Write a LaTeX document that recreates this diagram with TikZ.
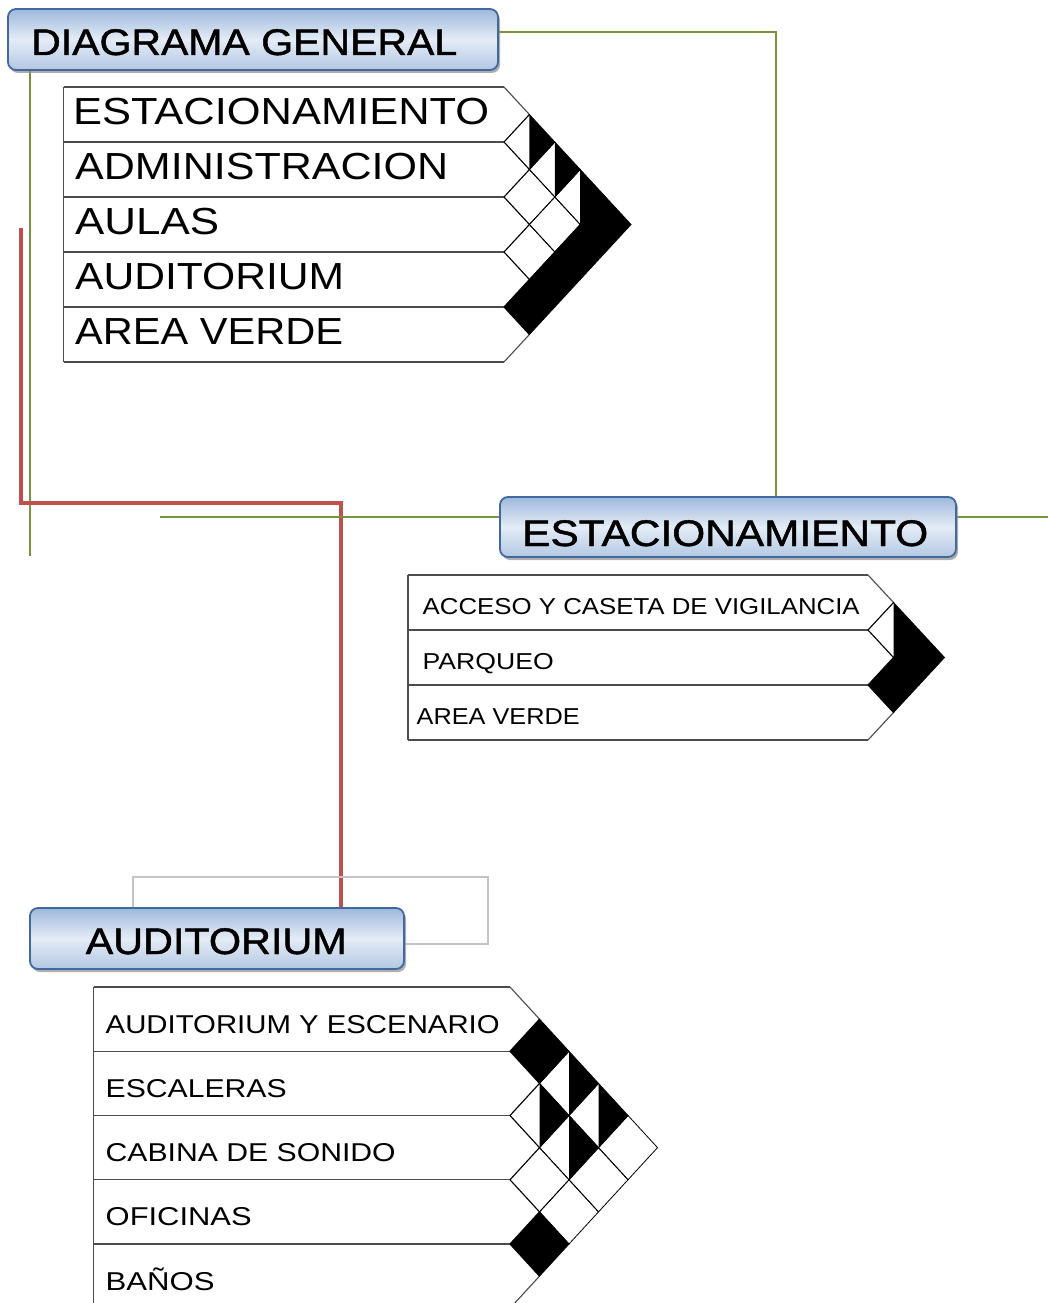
\documentclass[tikz,border=0pt]{standalone}
\usepackage{fontspec}
\setmainfont{Liberation Sans}
\newfontfamily\ttlfont[FakeBold=1.2]{Liberation Sans}
\usepackage{graphicx}
\usetikzlibrary{shadows,calc}
\definecolor{cGreen}{RGB}{119,147,60}
\definecolor{cRed}{RGB}{192,80,77}
\definecolor{cGray}{RGB}{196,196,196}
\definecolor{cBoxLine}{RGB}{65,105,160}
\definecolor{cBoxDark}{RGB}{158,184,219}
\definecolor{cBoxLight}{RGB}{228,236,246}

\newsavebox{\fitbox}
\newlength{\fitlen}
\newcommand{\fitw}[2]{\sbox{\fitbox}{#2}\setlength{\fitlen}{\wd\fitbox}\pgfmathsetmacro{\fitx}{#1/\fitlen}\scalebox{\fitx}[1]{\usebox{\fitbox}}}

% table rows: xl, xr, top, H, w, n
\newcommand{\rtable}[6]{%
  \pgfmathsetmacro{\tbot}{#3+#6*#4}%
  \pgfmathtruncatemacro{\tn}{#6-1}%
  \draw[tblline] (#1,#3) -- (#1,\tbot);
  \foreach \k in {0,...,#6}{\draw[tblline] (#1,{#3+\k*#4}) -- (#2,{#3+\k*#4});}
  \foreach \k in {0,...,\tn}{\draw[tblline] (#2,{#3+\k*#4}) -- ({#2+#5},{#3+(\k+0.5)*#4}) -- (#2,{#3+(\k+1)*#4});}
}
% cell: xr, top, H, w, i, j, type (0 none, 1 half, 2 full)
\newcommand{\rcell}[7]{%
  \pgfmathsetmacro{\cx}{#1+(#6-#5)*#4}%
  \pgfmathsetmacro{\cy}{#2+(#5+#6+1)*#3/2}%
  \pgfmathsetmacro{\ch}{#3/2}%
  \ifcase#7\relax
  \or \fill[black] (\cx,\cy-\ch) -- (\cx+#4,\cy) -- (\cx,\cy+\ch) -- cycle;
  \or \fill[black] (\cx-#4,\cy) -- (\cx,\cy-\ch) -- (\cx+#4,\cy) -- (\cx,\cy+\ch) -- cycle;
  \fi
  \draw[dialine] (\cx-#4,\cy) -- (\cx,\cy-\ch) -- (\cx+#4,\cy) -- (\cx,\cy+\ch) -- cycle;
}

\begin{document}
\begin{tikzpicture}[x=1pt,y=-1pt,
  tblline/.style={draw=black!70,line width=1.1pt},
  dialine/.style={draw=black,line width=0.8pt},
  greenline/.style={draw=cGreen,line width=2.4pt},
  redline/.style={draw=cRed,line width=3.4pt},
  grayline/.style={draw=cGray,line width=2pt},
  titlebox/.style={rounded corners=8pt, draw=cBoxLine, line width=1.8pt,
    top color=cBoxDark, bottom color=cBoxDark!70!cBoxLight, middle color=cBoxLight,
    drop shadow={shadow xshift=2pt,shadow yshift=-3pt,fill=black!45,opacity=0.7},
    inner sep=0pt},
  titletext/.style={anchor=base west, inner sep=0pt, font=\ttlfont\fontsize{37}{40}\selectfont},
  rowA/.style={anchor=base west, inner sep=0pt, font=\fontsize{37.7}{40}\selectfont},
  rowB/.style={anchor=base west, inner sep=0pt, font=\fontsize{23}{26}\selectfont},
  rowC/.style={anchor=base west, inner sep=0pt, font=\fontsize{25.8}{28}\selectfont}
]
\useasboundingbox (0,0) rectangle (1048,1303);
\fill[white] (0,0) rectangle (1048,1303);
\begin{scope}
\clip (0,0) rectangle (1048,1303);

% ---------- title boxes (positions) ----------
\path (253,39.5) node[minimum width=490pt, minimum height=61pt, inner sep=0pt] (gen) {};
\path (728,527) node[minimum width=456pt, minimum height=60pt, inner sep=0pt] (est) {};
\path (217,938.5) node[minimum width=374pt, minimum height=61pt, inner sep=0pt] (aud) {};

% ---------- connectors ----------
\coordinate (gturn) at (776,32);
\coordinate (gv) at (30,556);
\coordinate (gh) at (160,517);
\coordinate (ge) at (1048,517);
\coordinate (r0) at (21,228);
\coordinate (r1) at (21,503);
\coordinate (r2) at (341,503);
\coordinate (q1) at (133,877);
\coordinate (q2) at (488,877);
\coordinate (q3) at (488,944);

\draw[greenline] (gen.east |- gturn) -- (gturn) -- (gturn |- est.north);
\draw[greenline] (gen.south -| gv) -- (gv);
\draw[redline] (r0) -- (r1) -- (r2) -- (aud.north -| r2);
\draw[greenline] (gh) -- (est.west |- gh);
\draw[greenline] (est.east |- ge) -- (ge);
\draw[grayline] (aud.north -| q1) -- (q1) -- (q2) -- (q3) -- (aud.east |- q3);

% ---------- title boxes ----------
\node[titlebox, minimum width=490pt, minimum height=61pt] (genB) at (gen) {};
\node[titlebox, minimum width=456pt, minimum height=60pt] (estB) at (est) {};
\node[titlebox, minimum width=374pt, minimum height=61pt] (audB) at (aud) {};
\node[titletext] (genT) at (31,55) {\fitw{426}{DIAGRAMA GENERAL}};
\node[titletext] (estT) at (522,546) {\fitw{406}{ESTACIONAMIENTO}};
\node[titletext] (audT) at (85.5,954) {\fitw{261}{AUDITORIUM}};

% ---------- top table ----------
\rtable{63.5}{504}{87}{55}{25.4}{5}
\rcell{504}{87}{55}{25.4}{0}{1}{1}
\rcell{504}{87}{55}{25.4}{0}{2}{1}
\rcell{504}{87}{55}{25.4}{0}{3}{1}
\rcell{504}{87}{55}{25.4}{0}{4}{2}
\rcell{504}{87}{55}{25.4}{1}{2}{0}
\rcell{504}{87}{55}{25.4}{1}{3}{0}
\rcell{504}{87}{55}{25.4}{1}{4}{2}
\rcell{504}{87}{55}{25.4}{2}{3}{0}
\rcell{504}{87}{55}{25.4}{2}{4}{2}
\rcell{504}{87}{55}{25.4}{3}{4}{2}
\node[rowA] (a1) at (73,124.8) {\fitw{416}{ESTACIONAMIENTO}};
\node[rowA] (a2) at (75,179.8) {\fitw{373}{ADMINISTRACION}};
\node[rowA] (a3) at (75,234.8) {\fitw{144}{AULAS}};
\node[rowA] (a4) at (75,289.8) {\fitw{269}{AUDITORIUM}};
\node[rowA] (a5) at (75,344.8) {\fitw{268}{AREA VERDE}};

% ---------- middle table ----------
\rtable{408}{868}{575}{55}{25.5}{3}
\rcell{868}{575}{55}{25.5}{0}{1}{1}
\rcell{868}{575}{55}{25.5}{0}{2}{2}
\rcell{868}{575}{55}{25.5}{1}{2}{2}
\node[rowB] (b1) at (422.5,614.25) {\fitw{437}{ACCESO Y CASETA DE VIGILANCIA}};
\node[rowB] (b2) at (422.5,669.25) {\fitw{131}{PARQUEO}};
\node[rowB] (b3) at (416.5,724.25) {\fitw{163}{AREA VERDE}};

% ---------- bottom table ----------
\rtable{93.5}{510}{987}{64.25}{29.5}{5}
\rcell{510}{987}{64.25}{29.5}{0}{1}{2}
\rcell{510}{987}{64.25}{29.5}{0}{2}{1}
\rcell{510}{987}{64.25}{29.5}{0}{3}{1}
\rcell{510}{987}{64.25}{29.5}{0}{4}{0}
\rcell{510}{987}{64.25}{29.5}{1}{2}{1}
\rcell{510}{987}{64.25}{29.5}{1}{3}{1}
\rcell{510}{987}{64.25}{29.5}{1}{4}{0}
\rcell{510}{987}{64.25}{29.5}{2}{3}{0}
\rcell{510}{987}{64.25}{29.5}{2}{4}{0}
\rcell{510}{987}{64.25}{29.5}{3}{4}{2}
\node[rowC] (c1) at (105.5,1033) {\fitw{394}{AUDITORIUM Y ESCENARIO}};
\node[rowC] (c2) at (105.5,1097.4) {\fitw{181}{ESCALERAS}};
\node[rowC] (c3) at (105.5,1161.6) {\fitw{290}{CABINA DE SONIDO}};
\node[rowC] (c4) at (105.5,1225.9) {\fitw{146}{OFICINAS}};
\node[rowC] (c5) at (105.5,1290.1) {\fitw{109}{BAÑOS}};
\end{scope}
\end{tikzpicture}
\end{document}
